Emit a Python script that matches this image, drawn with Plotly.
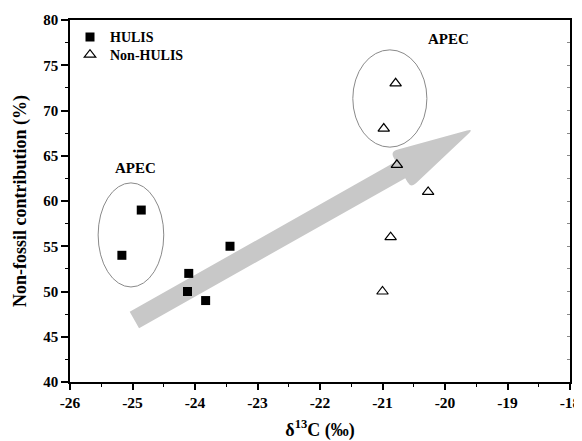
import math
import plotly.graph_objects as go

# ---- data ----
hulis_x = [-25.17, -24.86, -24.10, -24.12, -23.83, -23.44]
hulis_y = [54, 59, 52, 50, 49, 55]
nonhulis_x = [-20.79, -20.98, -20.77, -20.27, -20.87, -21.0]
nonhulis_y = [73, 68, 64, 61, 56, 50]

x_range = [-26, -18]
y_range = [40, 80]
x_ticks = [-26, -25, -24, -23, -22, -21, -20, -19, -18]
x_ticktext = ["-26", "-25", "-24", "-23", "-22", "-21", "-20", "-19", "-18"]
y_ticks = [40, 45, 50, 55, 60, 65, 70, 75, 80]
y_ticktext = ["40", "45", "50", "55", "60", "65", "70", "75", "80"]

# ---- layout geometry (page body has an 8px margin) ----
W, H = 574, 433
ml, mr, mt, mb = 62, 12, 12, 59
PW, PH = W - ml - mr, H - mt - mb

FONT = "Liberation Serif"

def to_px(x, y):
    return (ml + (x - x_range[0]) / (x_range[1] - x_range[0]) * PW,
            mt + (y_range[1] - y) / (y_range[1] - y_range[0]) * PH)

def px_to_paper(px, py):
    return ((px - ml) / PW, (mt + PH - py) / PH)

# arrow (decoration) in data coords of its ends, widths in pixels
arrow_tail = (-24.97, 46.85)
arrow_tip = (-19.54, 68.0)
shaft_w, head_w, head_len, corner_r = 19, 42, 84, 7

tx, ty = to_px(*arrow_tail)
hx, hy = to_px(*arrow_tip)
L = math.hypot(hx - tx, hy - ty)
ux, uy = (hx - tx) / L, (hy - ty) / L
nx, ny = -uy, ux
nkx, nky = hx - ux * head_len, hy - uy * head_len
pts = [
    (tx + nx * shaft_w / 2, ty + ny * shaft_w / 2, False),
    (nkx + nx * shaft_w / 2, nky + ny * shaft_w / 2, False),
    (nkx + nx * head_w / 2, nky + ny * head_w / 2, True),
    (hx, hy, True),
    (nkx - nx * head_w / 2, nky - ny * head_w / 2, True),
    (nkx - nx * shaft_w / 2, nky - ny * shaft_w / 2, False),
    (tx - nx * shaft_w / 2, ty - ny * shaft_w / 2, False),
]

def fmt(p):
    a, b = px_to_paper(*p)
    return f"{a:.5f},{b:.5f}"

segs = []
n = len(pts)
for i, (px, py, rnd) in enumerate(pts):
    if not rnd:
        segs.append(("L" if segs else "M") + " " + fmt((px, py)))
    else:
        p0 = pts[i - 1]
        p2 = pts[(i + 1) % n]
        d0 = math.hypot(p0[0] - px, p0[1] - py)
        d2 = math.hypot(p2[0] - px, p2[1] - py)
        a = (px + (p0[0] - px) / d0 * corner_r, py + (p0[1] - py) / d0 * corner_r)
        b = (px + (p2[0] - px) / d2 * corner_r, py + (p2[1] - py) / d2 * corner_r)
        segs.append("L " + fmt(a))
        segs.append("Q " + fmt((px, py)) + " " + fmt(b))
path = " ".join(segs) + " Z"

fig = go.Figure()
fig.add_trace(go.Scatter(
    x=hulis_x, y=hulis_y, mode="markers", name="HULIS", legend="legend",
    marker=dict(symbol="square", size=9, color="black"),
))
fig.add_trace(go.Scatter(
    x=nonhulis_x, y=nonhulis_y, mode="markers", name="Non-HULIS", legend="legend2",
    marker=dict(symbol="triangle-up-open", size=10, color="black",
                line=dict(width=1.2, color="black")),
))
# invisible trace to activate right-side inward ticks
fig.add_trace(go.Scatter(x=[x_range[0]], y=[y_range[0]], yaxis="y2",
                         showlegend=False, mode="markers",
                         marker=dict(opacity=0)))

fig.add_shape(type="path", path=path, xref="paper", yref="paper",
              fillcolor="#c8c8c8", line=dict(width=0), layer="below")
fig.add_shape(type="circle", xref="x", yref="y", x0=-25.55, x1=-24.5,
              y0=50.5, y1=62.0, line=dict(color="#8a8a8a", width=1))
fig.add_shape(type="circle", xref="x", yref="y", x0=-21.475, x1=-20.29,
              y0=65.95, y1=76.7, line=dict(color="#8a8a8a", width=1))

fig.add_annotation(x=-24.95, y=63.6, text="APEC", showarrow=False,
                   font=dict(family=FONT, size=15, color="black", weight="bold"))
fig.add_annotation(x=-19.94, y=77.86, text="APEC", showarrow=False,
                   font=dict(family=FONT, size=15, color="black", weight="bold"))

xtickfont = dict(family=FONT, size=15.5, color="black", weight="bold")
ytickfont = dict(family=FONT, size=15, color="black", weight="bold")
titlefont = dict(family=FONT, size=18, color="black", weight="bold")
legfont = dict(family=FONT, size=14, color="black", weight="bold")

fig.update_layout(
    width=W, height=H,
    font=dict(family=FONT, color="black", weight="bold"),
    margin=dict(l=ml, r=mr, t=mt, b=mb, autoexpand=False),
    plot_bgcolor="white", paper_bgcolor="white",
    showlegend=True,
    legend=dict(x=0, y=0.952, xanchor="left", yanchor="middle",
                font=legfont, bgcolor="rgba(0,0,0,0)", itemwidth=30),
    legend2=dict(x=0, y=0.903, xanchor="left", yanchor="middle",
                 font=legfont, bgcolor="rgba(0,0,0,0)", itemwidth=30),
    xaxis=dict(range=x_range, tickvals=x_ticks,
               ticktext=[f"<b>{t}</b>" for t in x_ticktext],
               automargin=False,
               ticks="outside", ticklen=6,
               tickwidth=1.5, tickcolor="black", showline=True, linecolor="black",
               linewidth=1.5, mirror=True, showgrid=False, zeroline=False,
               tickfont=xtickfont,
               minor=dict(dtick=0.5, ticks="outside", ticklen=3, tickcolor="black",
                          tickwidth=1.2, showgrid=False),
               title=dict(text="δ<sup>13</sup>C (‰)", font=titlefont, standoff=13)),
    yaxis=dict(range=y_range, tickvals=y_ticks,
               ticktext=[f"<b>{t}</b>" for t in y_ticktext],
               automargin=False,
               ticks="outside", ticklen=7,
               tickwidth=1.5, tickcolor="black", showline=True, linecolor="black",
               linewidth=1.5, mirror=True, showgrid=False, zeroline=False,
               tickfont=ytickfont,
               minor=dict(dtick=2.5, ticks="outside", ticklen=3, tickcolor="black",
                          tickwidth=1.2, showgrid=False),
               title=dict(text="Non-fossil contribution (%)", font=titlefont, standoff=12)),
    yaxis2=dict(range=y_range, overlaying="y", side="right", dtick=2.5,
                automargin=False,
                ticks="inside", ticklen=3, tickcolor="#888888", tickwidth=1,
                showticklabels=False, showgrid=False, zeroline=False, showline=False),
)

fig.write_html("out.html")
